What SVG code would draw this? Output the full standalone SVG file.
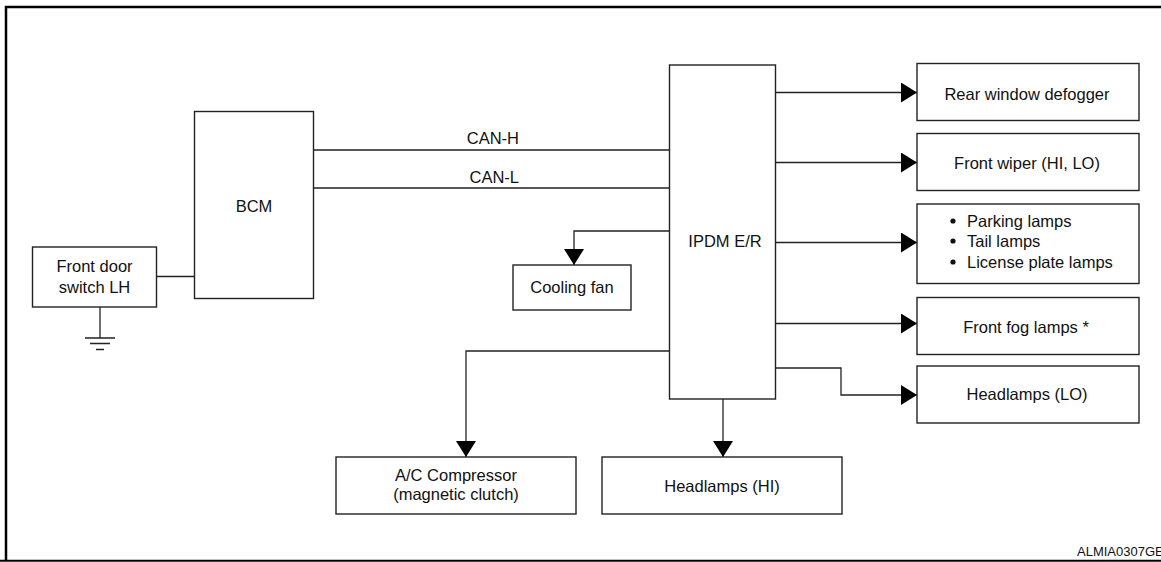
<svg xmlns="http://www.w3.org/2000/svg" width="1161" height="562" viewBox="0 0 1161 562">
<style>
.box{fill:#fff;stroke:#222;stroke-width:1.4}
.ln{fill:none;stroke:#222;stroke-width:1.3}
.arr{marker-end:url(#ah)}
text{font-family:"Liberation Sans",Arial,sans-serif;font-size:16.5px;fill:#111}
.c{text-anchor:middle}
.frame{fill:none;stroke:#000;stroke-width:2.5}
</style>
<defs>
<marker id="ah" markerUnits="userSpaceOnUse" markerWidth="16" markerHeight="20" refX="16" refY="10" orient="auto" viewBox="0 0 16 20">
<path d="M0,0 L16,10 L0,20 Z" fill="#000"/>
</marker>
</defs>
<rect width="1161" height="562" fill="#fff"/>
<g id="frame">
<path class="frame" d="M6,561 V7 H1161"/>
<path d="M0,560.8 H1161" stroke="#000" stroke-width="2"/>
<text x="1077" y="556" style="font-size:13px">ALMIA0307GE</text>
</g>
<g id="connectors">
<path class="ln" d="M157,276.5 H194.5"/>
<path class="ln" d="M100,307 V338"/>
<path class="ln" d="M85,338 H115 M90,343.5 H110 M96,349.5 H104"/>
<path class="ln" d="M314,150 H669.5 M314,188 H669.5"/>
<path class="ln arr" d="M669.5,231 H574 V265"/>
<path class="ln arr" d="M775.5,92.5 H917"/>
<path class="ln arr" d="M775.5,162.5 H917"/>
<path class="ln arr" d="M775.5,242.5 H917"/>
<path class="ln arr" d="M775.5,323.5 H917"/>
<path class="ln arr" d="M775.5,368 H841 V395 H917"/>
<path class="ln arr" d="M669.5,351 H466 V457"/>
<path class="ln arr" d="M723,399 V457"/>
<text x="519" y="144" style="text-anchor:end">CAN-H</text>
<text x="519" y="183" style="text-anchor:end">CAN-L</text>
</g>
<g id="front-door-switch">
<rect class="box" x="32.5" y="247" width="124" height="60"/>
<text class="c" x="94.5" y="272">Front door</text>
<text class="c" x="94.5" y="293">switch LH</text>
</g>
<g id="bcm">
<rect class="box" x="194.5" y="111.5" width="119" height="187"/>
<text class="c" x="254" y="211.5">BCM</text>
</g>
<g id="ipdm">
<rect class="box" x="669.5" y="65" width="106" height="334"/>
<text class="c" x="725" y="246.5">IPDM E/R</text>
</g>
<g id="cooling-fan">
<rect class="box" x="513" y="265" width="118" height="45"/>
<text class="c" x="572" y="293">Cooling fan</text>
</g>
<g id="rear-defogger">
<rect class="box" x="917" y="63.5" width="222" height="57"/>
<text class="c" x="1027" y="99.5">Rear window defogger</text>
</g>
<g id="front-wiper">
<rect class="box" x="917" y="133.5" width="222" height="57"/>
<text class="c" x="1027" y="168.5">Front wiper (HI, LO)</text>
</g>
<g id="parking-lamps">
<rect class="box" x="917" y="204" width="222" height="79.5"/>
<circle cx="953" cy="221" r="2.6" fill="#111"/>
<circle cx="953" cy="241" r="2.6" fill="#111"/>
<circle cx="953" cy="262" r="2.6" fill="#111"/>
<text x="967" y="226.5">Parking lamps</text>
<text x="967" y="246.5">Tail lamps</text>
<text x="967" y="267.5">License plate lamps</text>
</g>
<g id="front-fog">
<rect class="box" x="917" y="297.5" width="222" height="57"/>
<text class="c" x="1026" y="333">Front fog lamps *</text>
</g>
<g id="headlamps-lo">
<rect class="box" x="917" y="366" width="222" height="57"/>
<text class="c" x="1027" y="400">Headlamps (LO)</text>
</g>
<g id="ac-compressor">
<rect class="box" x="336" y="457" width="240" height="57"/>
<text class="c" x="456" y="481">A/C Compressor</text>
<text class="c" x="456" y="500">(magnetic clutch)</text>
</g>
<g id="headlamps-hi">
<rect class="box" x="602" y="457" width="240" height="57"/>
<text class="c" x="722" y="491.5">Headlamps (HI)</text>
</g>
</svg>
